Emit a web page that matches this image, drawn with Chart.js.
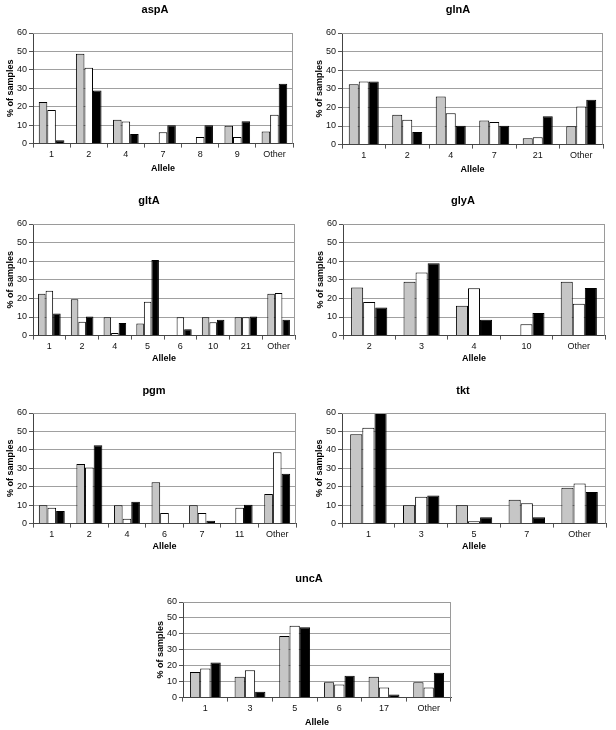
<!DOCTYPE html>
<html>
<head>
<meta charset="utf-8">
<script src="https://cdn.jsdelivr.net/npm/chart.js@4"></script>
<style>
  body { margin: 0; background: #fff; }
  #page { position: relative; width: 616px; height: 730px; overflow: hidden; }
  .panel { position: absolute; }
</style>
</head>
<body>
<div id="page"></div>
<script>
// values, % of samples per allele
const aspALabels = ['1', '2', '4', '7', '8', '9', 'Other'];
const aspAGray  = [22.6, 48.8, 12.9, 0, 0, 9.7, 6.5];
const aspAWhite = [18.2, 41.2, 12.0, 6.1, 3.6, 3.6, 15.7];
const aspABlack = [1.8, 28.8, 5.2, 10.0, 10.0, 12.1, 32.5];

const glnALabels = ['1', '2', '4', '7', '21', 'Other'];
const glnAGray  = [32.4, 16.0, 25.8, 13.0, 3.4, 9.9];
const glnAWhite = [33.9, 13.3, 16.9, 12.1, 4.0, 20.5];
const glnABlack = [33.9, 6.8, 10.1, 10.1, 15.3, 24.1];

const gltALabels = ['1', '2', '4', '5', '6', '10', '21', 'Other'];
const gltAGray  = [22.5, 19.5, 9.9, 6.5, 0, 9.9, 9.9, 22.5];
const gltAWhite = [24.1, 7.4, 1.4, 18.2, 9.9, 7.2, 9.9, 22.9];
const gltABlack = [11.9, 10.3, 6.8, 40.7, 3.4, 8.5, 10.3, 8.5];

const glyALabels = ['2', '3', '4', '10', 'Other'];
const glyAGray  = [25.8, 29.0, 16.0, 0, 29.0];
const glyAWhite = [18.0, 33.9, 25.4, 6.1, 17.1];
const glyABlack = [15.1, 38.9, 8.5, 12.1, 25.6];

const pgmLabels = ['1', '2', '4', '6', '7', '11', 'Other'];
const pgmGray  = [9.9, 32.3, 9.9, 22.4, 9.9, 0, 16.1];
const pgmWhite = [8.6, 30.5, 2.6, 5.8, 5.8, 8.6, 38.7];
const pgmBlack = [6.9, 42.5, 11.9, 0, 1.6, 10.2, 27.0];

const tktLabels = ['1', '3', '5', '7', 'Other'];
const tktGray  = [48.5, 9.9, 9.9, 13.0, 19.5];
const tktWhite = [52.0, 14.6, 1.3, 11.1, 21.7];
const tktBlack = [60.0, 15.3, 3.5, 3.5, 17.2];

const uncALabels = ['1', '3', '5', '6', '17', 'Other'];
const uncAGray  = [16.0, 13.1, 38.7, 9.7, 13.1, 9.7];
const uncAWhite = [18.3, 17.1, 45.1, 8.2, 6.3, 6.3];
const uncABlack = [22.1, 3.6, 44.2, 13.7, 1.9, 15.6];

const yTicks = [0, 10, 20, 30, 40, 50, 60];

const FONT = 'Liberation Sans, Arial, sans-serif';

// thin grey frame round the plot area
const frame = {
  id: 'frame',
  afterDraw(chart) {
    const a = chart.chartArea;
    const ctx = chart.ctx;
    ctx.save();
    ctx.strokeStyle = '#9a9a9a';
    ctx.lineWidth = 1;
    ctx.beginPath();
    ctx.moveTo(a.left, a.top + 0.5);
    ctx.lineTo(a.right - 0.5, a.top + 0.5);
    ctx.lineTo(a.right - 0.5, a.bottom);
    ctx.stroke();
    ctx.restore();
  }
};

function drawPanel(title, labels, gray, white, black, box) {
  const left = box.l - 33;
  const top = Math.round(box.titleY - 6.6);
  // canvas width picked so the centred title lands where it is in the figure
  const width = Math.round(2 * (box.titleX - left));
  const rightPad = width - (box.r - left);
  const div = document.createElement('div');
  div.className = 'panel';
  div.style.left = left + 'px';
  div.style.top = top + 'px';
  div.style.width = width + 'px';
  div.style.height = Math.round(box.alleleY + 6 - top) + 'px';
  const canvas = document.createElement('canvas');
  div.appendChild(canvas);
  document.getElementById('page').appendChild(div);

  new Chart(canvas.getContext('2d'), {
    type: 'bar',
    data: {
      labels: labels,
      datasets: [
        { label: 'Series 1', data: gray, backgroundColor: '#c6c6c6' },
        { label: 'Series 2', data: white, backgroundColor: '#ffffff' },
        { label: 'Series 3', data: black, backgroundColor: '#000000' }
      ]
    },
    options: {
      responsive: true,
      maintainAspectRatio: false,
      animation: false,
      layout: { padding: 0 },
      datasets: {
        bar: {
          borderColor: '#000',
          borderWidth: 1,
          borderSkipped: 'start',
          barPercentage: 1,
          categoryPercentage: 0.69
        }
      },
      plugins: {
        legend: { display: false },
        tooltip: { enabled: false },
        title: {
          display: true,
          text: title,
          color: '#000',
          font: { family: FONT, size: 11, weight: 'bold' },
          padding: { top: 0, bottom: box.t - top - 13.2 }
        }
      },
      scales: {
        x: {
          grid: { drawOnChartArea: false, drawTicks: true, tickLength: 4, color: '#555' },
          border: { display: true, color: '#444' },
          ticks: { color: '#111', padding: 2, font: { family: FONT, size: 9 } },
          title: {
            display: true,
            text: 'Allele',
            color: '#000',
            padding: 0,
            font: { family: FONT, size: 9, weight: 'bold' }
          },
          afterFit(s) { s.height = box.alleleY + 5.4 - box.b; }
        },
        y: {
          min: 0,
          max: 60,
          afterBuildTicks(s) { s.ticks = yTicks.map(v => ({ value: v })); },
          grid: { color: '#a0a0a0', tickColor: '#555', tickLength: 4 },
          border: { display: true, color: '#444' },
          ticks: { color: '#111', padding: 2, font: { family: FONT, size: 9 } },
          title: {
            display: true,
            text: '% of samples',
            color: '#000',
            padding: { top: 5.6, bottom: 0 },
            font: { family: FONT, size: 9, weight: 'bold' }
          },
          afterFit(s) { s.width = 33; }
        },
        // empty spacer on the right so the title is centred over the whole panel
        spacer: {
          type: 'linear',
          position: 'right',
          display: true,
          grid: { display: false },
          border: { display: false },
          ticks: { display: false },
          afterFit(s) { s.width = rightPad; }
        }
      }
    },
    plugins: [frame]
  });
}

drawPanel('aspA', aspALabels, aspAGray, aspAWhite, aspABlack,
  { l: 33, t: 33, r: 293, b: 143, titleX: 155, titleY: 10, alleleY: 168 });
drawPanel('glnA', glnALabels, glnAGray, glnAWhite, glnABlack,
  { l: 342, t: 33, r: 603, b: 144, titleX: 458, titleY: 10, alleleY: 169 });
drawPanel('gltA', gltALabels, gltAGray, gltAWhite, gltABlack,
  { l: 33, t: 224, r: 295, b: 335, titleX: 149, titleY: 201, alleleY: 358 });
drawPanel('glyA', glyALabels, glyAGray, glyAWhite, glyABlack,
  { l: 343, t: 224, r: 605, b: 335, titleX: 463, titleY: 201, alleleY: 358 });
drawPanel('pgm', pgmLabels, pgmGray, pgmWhite, pgmBlack,
  { l: 33, t: 413, r: 296, b: 523, titleX: 154, titleY: 391, alleleY: 546 });
drawPanel('tkt', tktLabels, tktGray, tktWhite, tktBlack,
  { l: 342, t: 413, r: 606, b: 523, titleX: 463, titleY: 391, alleleY: 546 });
drawPanel('uncA', uncALabels, uncAGray, uncAWhite, uncABlack,
  { l: 183, t: 602, r: 451, b: 697, titleX: 309, titleY: 579, alleleY: 722 });
</script>
</body>
</html>
